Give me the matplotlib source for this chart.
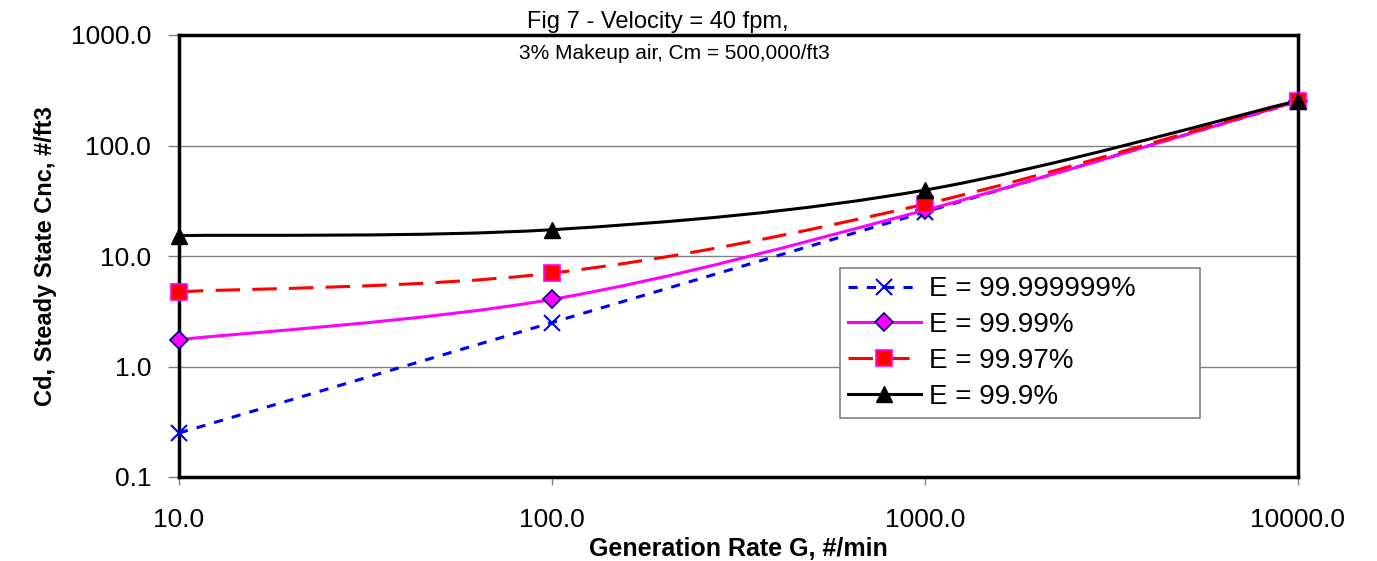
import numpy as np
import matplotlib
matplotlib.use("Agg")
from matplotlib import pyplot as plt
from matplotlib.path import Path
from matplotlib.patches import PathPatch
from matplotlib.lines import Line2D

# generation rate G, #/min
gen_rate = [10, 100, 1000, 10000]

# steady state concentration for each filter efficiency
cd_99999999 = [0.25, 2.5, 25.0, 250.0]
cd_9999 = [1.75, 4.05, 26.0, 252.0]
cd_9997 = [4.75, 7.0, 29.5, 255.0]
cd_999 = [15.3, 17.3, 39.5, 255.0]

labels = ["E = 99.999999%", "E = 99.99%", "E = 99.97%", "E = 99.9%"]

plt.rcParams["font.family"] = ["Liberation Sans", "DejaVu Sans"]

fig = plt.figure(figsize=(13.77, 5.61), dpi=100)
ax = fig.add_axes([179 / 1377, 1 - 477 / 561, (1298 - 179) / 1377, (477 - 35) / 561])
ax.set_xscale("log")
ax.set_yscale("log")
ax.set_xlim(10, 10000)
ax.set_ylim(0.1, 1000)


def smooth_path(xs, ys):
    # excel style smoothed line: bezier segments built in log space
    lx = np.log10(xs)
    ly = np.log10(ys)
    pts = np.column_stack([lx, ly])
    n = len(pts)
    verts = [pts[0]]
    codes = [Path.MOVETO]
    for i in range(n - 1):
        p0 = pts[max(i - 1, 0)]
        p1 = pts[i]
        p2 = pts[i + 1]
        p3 = pts[min(i + 2, n - 1)]
        c1 = p1 + (p2 - p0) / 6
        c2 = p2 - (p3 - p1) / 6
        verts += [c1, c2, p2]
        codes += [Path.CURVE4] * 3
    verts = 10 ** np.array(verts)
    return Path(verts, codes)


series = [
    (cd_99999999, dict(color="#0000ff", ls=(0, (3, 3)), marker="x", ms=11, mfc="#0000ff", mec="#0000ff", mew=1.5)),
    (cd_9999, dict(color="#ff00ff", ls="-", marker="D", ms=9, mfc="#ff00ff", mec="#000080", mew=1.2)),
    (cd_9997, dict(color="#ff0000", ls=(0, (8, 4)), marker="s", ms=12, mfc="#ff0000", mec="#ff00ff", mew=1.2)),
    (cd_999, dict(color="black", ls="-", marker="^", ms=12, mfc="black", mec="black", mew=1)),
]

handles = []
for (vals, st), lab in zip(series, labels):
    patch = PathPatch(smooth_path(gen_rate, vals), fill=False, edgecolor=st["color"],
                      linestyle=st["ls"], linewidth=2.2, zorder=3)
    ax.add_patch(patch)
    ax.plot(gen_rate, vals, ls="none", marker=st["marker"], ms=st["ms"], mfc=st["mfc"],
            mec=st["mec"], mew=st["mew"], zorder=4, clip_on=False)
    handles.append(Line2D([], [], color=st["color"], ls=st["ls"], lw=2.2, marker=st["marker"],
                          ms=st["ms"], mfc=st["mfc"], mec=st["mec"], mew=st["mew"]))

ax.grid(axis="y", which="major", color="#808080", lw=1)
ax.set_axisbelow(True)
ax.minorticks_off()
ax.set_xticks(gen_rate)
ax.set_xticklabels(["10.0", "100.0", "1000.0", "10000.0"])
ax.set_yticks([0.1, 1, 10, 100, 1000])
ax.set_yticklabels(["0.1", "1.0", "10.0", "100.0", "1000.0"])
ax.tick_params(axis="x", direction="out", length=6, width=1, color="#808080", labelsize=19, pad=16)
ax.tick_params(axis="y", direction="out", length=8, width=1, color="#808080", labelsize=19, pad=12)
for sp in ax.spines.values():
    sp.set_linewidth(2.5)
    sp.set_color("black")

ax.set_xlabel("Generation Rate G, #/min", fontsize=18, fontweight="bold", labelpad=4)
ax.set_ylabel("Cd, Steady State Cnc, #/ft3", fontsize=17, fontweight="bold", labelpad=10)

fig.text(658 / 1377, 1 - 22 / 561, "Fig 7 - Velocity = 40 fpm,", ha="center", va="center", fontsize=17)
fig.text(674 / 1377, 1 - 54 / 561, "3% Makeup air, Cm = 500,000/ft3", ha="center", va="center", fontsize=15)

leg = ax.legend(handles, labels, loc="upper left", mode="expand",
                bbox_to_anchor=(840 / 1377, 1 - 268 / 561, 360 / 1377, 0.0),
                bbox_transform=fig.transFigure, fontsize=20, frameon=True, fancybox=False,
                handlelength=2.6, handletextpad=0.3, labelspacing=0.35, borderpad=0.3,
                borderaxespad=0)
leg.get_frame().set_edgecolor("#808080")
leg.get_frame().set_linewidth(1.2)
leg.get_frame().set_alpha(1)

fig.savefig("out.png", dpi=100)
